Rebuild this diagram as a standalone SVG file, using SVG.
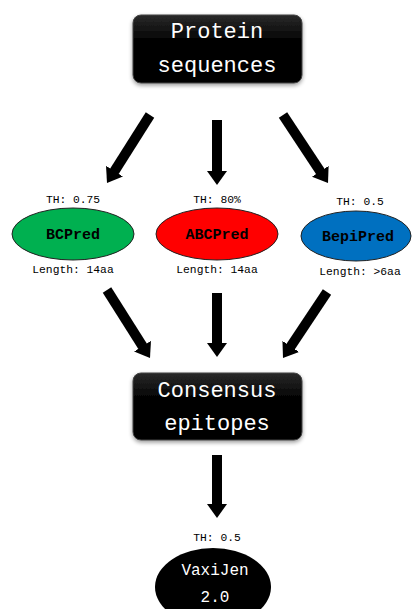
<svg xmlns="http://www.w3.org/2000/svg" width="418" height="609" viewBox="0 0 418 609">
<style>
.box{fill:url(#bg);stroke:#444;stroke-width:1}
.bt{font-family:"Liberation Mono",monospace;font-size:22px;fill:#fff;text-anchor:middle}
.et{font-family:"Liberation Mono",monospace;font-size:15px;font-weight:bold;fill:#000;text-anchor:middle}
.sm{font-family:"Liberation Mono",monospace;font-size:11.3px;fill:#000;text-anchor:middle}
.arr line{stroke:#000;stroke-width:10;marker-end:url(#ah)}
.ell{stroke:#222;stroke-width:1}
</style>
<defs>
<linearGradient id="bg" x1="0" y1="0" x2="0" y2="1">
<stop offset="0" stop-color="#2a2a2a"/>
<stop offset="0.4" stop-color="#000"/>
<stop offset="1" stop-color="#000"/>
</linearGradient>
<filter id="sh" x="-10%" y="-10%" width="120%" height="130%">
<feGaussianBlur in="SourceAlpha" stdDeviation="2"/>
<feOffset dx="0" dy="2" result="b"/>
<feComponentTransfer><feFuncA type="linear" slope="0.4"/></feComponentTransfer>
<feMerge><feMergeNode/><feMergeNode in="SourceGraphic"/></feMerge>
</filter>
<marker id="ah" markerUnits="userSpaceOnUse" markerWidth="14" markerHeight="20" viewBox="0 0 14 20" refX="1" refY="10" orient="auto">
<path d="M0,0 L14,10 L0,20 Z" fill="#000"/>
</marker>
</defs>
<rect width="418" height="609" fill="#fff"/>
<g id="connectors" class="arr">
<line x1="150" y1="115" x2="113.95" y2="172.01"/>
<line x1="217" y1="120" x2="217" y2="172"/>
<line x1="283" y1="115" x2="320.83" y2="172.16"/>
<line x1="107" y1="290" x2="143.05" y2="347.01"/>
<line x1="217" y1="293" x2="217" y2="344"/>
<line x1="327" y1="292" x2="290.21" y2="347.18"/>
<line x1="217" y1="455" x2="217" y2="505"/>
</g>
<g id="protein">
<rect class="box" x="133" y="15" width="169" height="68" rx="8" filter="url(#sh)"/>
<text class="bt" x="217" y="38">Protein</text>
<text class="bt" x="217" y="72">sequences</text>
</g>
<g id="bcpred">
<text class="sm" x="73" y="203">TH: 0.75</text>
<ellipse class="ell" cx="73" cy="234" rx="61" ry="26" fill="#00B050"/>
<text class="et" x="73" y="239">BCPred</text>
<text class="sm" x="73" y="273">Length: 14aa</text>
</g>
<g id="abcpred">
<text class="sm" x="217" y="203">TH: 80%</text>
<ellipse class="ell" cx="217" cy="234" rx="61" ry="26" fill="#FF0000"/>
<text class="et" x="217" y="239">ABCPred</text>
<text class="sm" x="217" y="273">Length: 14aa</text>
</g>
<g id="bepipred">
<text class="sm" x="360" y="205">TH: 0.5</text>
<ellipse class="ell" cx="356" cy="236" rx="55" ry="25" fill="#0070C0"/>
<text class="et" x="358" y="241">BepiPred</text>
<text class="sm" x="360" y="275">Length: &gt;6aa</text>
</g>
<g id="consensus">
<rect class="box" x="133" y="373" width="169" height="67" rx="8" filter="url(#sh)"/>
<text class="bt" x="217" y="397">Consensus</text>
<text class="bt" x="217" y="430">epitopes</text>
</g>
<g id="vaxijen">
<text class="sm" x="217" y="541">TH: 0.5</text>
<ellipse cx="213" cy="587" rx="58" ry="39" fill="#000"/>
<text class="bt" x="215" y="575" style="font-size:16px">VaxiJen</text>
<text class="bt" x="215" y="602" style="font-size:16px">2.0</text>
</g>
</svg>
